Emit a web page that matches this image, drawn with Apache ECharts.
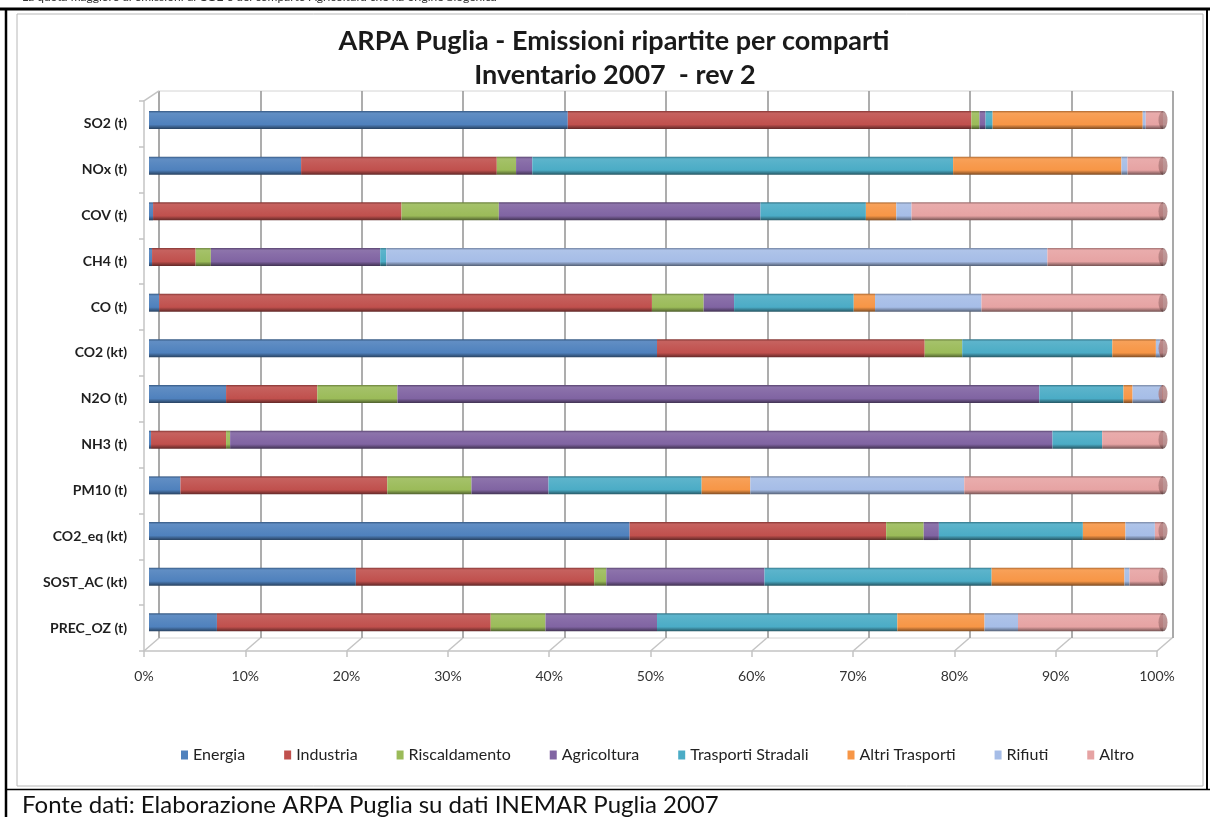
<!DOCTYPE html>
<html>
<head>
<meta charset="utf-8">
<script src="https://cdn.jsdelivr.net/npm/echarts@6/dist/echarts.min.js"></script>
<style>
  html, body { margin: 0; padding: 0; background: #fff; }
  #chart { width: 1210px; height: 817px; }
</style>
</head>
<body>
<div id="chart"></div>
<script>
// categories (top to bottom) and sector shares in %
const categories = ['SO2 (t)', 'NOx (t)', 'COV (t)', 'CH4 (t)', 'CO (t)', 'CO2 (kt)', 'N2O (t)', 'NH3 (t)', 'PM10 (t)', 'CO2_eq (kt)', 'SOST_AC (kt)', 'PREC_OZ (t)'];
const sectors = ['Energia', 'Industria', 'Riscaldamento', 'Agricoltura', 'Trasporti Stradali', 'Altri Trasporti', 'Rifiuti', 'Altro'];

const energia        = [41.3, 15.0,  0.4,  0.3,  1.0, 50.1,  7.6,  0.2,  3.1, 47.4, 20.4,  6.7];
const industria      = [39.8, 19.3, 24.5,  4.3, 48.6, 26.4,  9.0,  7.4, 20.4, 25.3, 23.5, 27.0];
const riscaldamento  = [ 0.8,  1.9,  9.6,  1.5,  5.1,  3.7,  7.9,  0.4,  8.3,  3.7,  1.2,  5.4];
const agricoltura    = [ 0.6,  1.6, 25.8, 16.7,  3.0,  0.0, 63.3, 81.1,  7.6,  1.5, 15.6, 11.0];
const trasporti      = [ 0.7, 41.5, 10.4,  0.6, 11.8, 14.8,  8.3,  4.9, 15.1, 14.2, 22.4, 23.7];
const altriTrasporti = [14.8, 16.6,  3.0,  0.0,  2.1,  4.3,  0.9,  0.0,  4.8,  4.2, 13.1,  8.6];
const rifiuti        = [ 0.3,  0.6,  1.5, 65.2, 10.5,  0.4,  2.9,  0.0, 21.1,  2.9,  0.5,  3.3];
const altro          = [ 1.7,  3.5, 24.8, 11.4, 17.9,  0.3,  0.1,  6.0, 19.6,  0.8,  3.3, 14.3];

const xTicks = [0, 10, 20, 30, 40, 50, 60, 70, 80, 90, 100];

const seriesValues = [energia, industria, riscaldamento, agricoltura, trasporti, altriTrasporti, rifiuti, altro];
const colors = ['#4F81BD', '#C0504D', '#9BBB59', '#8064A2', '#4BACC6', '#F79646', '#A6BDE7', '#E6A3A3'];

function shade(hex, k) {
  const n = parseInt(hex.slice(1), 16);
  const f = c => Math.round(k >= 0 ? c + (255 - c) * k : c * (1 + k));
  return 'rgb(' + f(n >> 16) + ',' + f((n >> 8) & 255) + ',' + f(n & 255) + ')';
}
// fake cylinder look
function cylinder(hex) {
  return new echarts.graphic.LinearGradient(0, 0, 0, 1, [
    { offset: 0, color: shade(hex, -0.3) },
    { offset: 0.12, color: shade(hex, 0.1) },
    { offset: 0.35, color: shade(hex, 0.06) },
    { offset: 0.75, color: hex },
    { offset: 1, color: shade(hex, -0.5) }
  ]);
}

const font = 'Lato, "Open Sans", sans-serif';
const chart = echarts.init(document.getElementById('chart'));

const barSeries = sectors.map((name, i) => ({
  name: name,
  type: 'bar',
  stack: 'tot',
  xAxisIndex: 0,
  yAxisIndex: 0,
  barWidth: 18,
  data: seriesValues[i],
  itemStyle: { color: cylinder(colors[i]) },
  emphasis: { disabled: true }
}));

const option = {
  animation: false,
  backgroundColor: '#fff',
  legend: {
    data: sectors.map((s, i) => ({ name: s, itemStyle: { color: colors[i] } })),
    left: 176,
    top: 742,
    icon: 'rect',
    itemWidth: 7,
    itemHeight: 9,
    itemGap: 39,
    textStyle: { fontFamily: font, fontSize: 16, color: '#222' }
  },
  grid: [
    { left: 149, top: 97.2, width: 1014, height: 548 },                     // bars
    { left: 159, top: 91, width: 1014, height: 547, show: true,
      borderColor: '#d4d4d4', borderWidth: 1 },                             // back wall
    { left: 144, top: 100.8, width: 1013, height: 550.2 }                   // front axes
  ],
  xAxis: [
    { gridIndex: 0, type: 'value', min: 0, max: 100, show: false },
    { gridIndex: 1, type: 'value', min: 0, max: 100, interval: 10,
      axisLine: { show: false }, axisTick: { show: false }, axisLabel: { show: false },
      splitLine: { show: true, lineStyle: { color: '#999', width: 1.6 } } },
    { gridIndex: 2, type: 'value', min: 0, max: 100, interval: 10,
      axisLine: { show: true, lineStyle: { color: '#c4c4c4', width: 1.5 } },
      axisTick: { show: true, length: 6, lineStyle: { color: '#c4c4c4', width: 1.5 } },
      axisLabel: { formatter: '{value}%', margin: 18, fontFamily: font, fontSize: 14, color: '#333' },
      splitLine: { show: false } }
  ],
  yAxis: [
    { gridIndex: 0, type: 'category', inverse: true, data: categories, show: false },
    { gridIndex: 1, type: 'value', show: false },
    { gridIndex: 2, type: 'category', inverse: true, data: categories,
      axisLine: { show: true, lineStyle: { color: '#c4c4c4', width: 1.5 } },
      axisTick: { show: true, length: 5, lineStyle: { color: '#c4c4c4', width: 1.5 } },
      axisLabel: { margin: 17, padding: [9, 0, 0, 0], fontFamily: font, fontSize: 14,
        fontWeight: 'bold', color: '#1f1f1f' } }
  ],
  series: barSeries.concat([
    {
      // rounded end caps of the cylinders
      type: 'scatter',
      xAxisIndex: 0,
      yAxisIndex: 0,
      symbol: 'circle',
      symbolSize: [9, 18],
      data: categories.map((c, i) => [100, i]),
      itemStyle: { color: cylinder('#A87373') },
      silent: true,
      z: 3
    },
    {
      // slanted floor ticks joining front axis and back wall
      type: 'custom',
      xAxisIndex: 2,
      yAxisIndex: 2,
      silent: true,
      data: xTicks.map(v => [v, categories.length - 1]),
      renderItem: (params, api) => {
        const p = api.coord([api.value(0), api.value(1)]);
        const h = api.size([0, 1])[1];
        const yb = p[1] + h / 2;
        const st = { stroke: '#c4c4c4', lineWidth: 1.5 };
        const kids = [{ type: 'line', shape: { x1: p[0], y1: yb, x2: p[0] + 15, y2: yb - 13 }, style: st }];
        if (params.dataIndex === 0) {
          const yt = yb - h * categories.length;
          kids.push({ type: 'line', shape: { x1: p[0], y1: yt, x2: p[0] + 15, y2: yt - 10 }, style: st });
        }
        return { type: 'group', children: kids };
      }
    }
  ]),
  graphic: [
    { type: 'text', left: 22, top: -9, style: { text: 'La quota maggiore di emissioni di CO2 è del comparto Agricoltura che ha origine biogenica', font: '12px ' + font, fill: '#333' } },
    { type: 'rect', shape: { x: 17, y: 14, width: 1186, height: 772 }, style: { fill: 'none', stroke: '#b8b8b8', lineWidth: 1 } },
    { type: 'line', shape: { x1: 0, y1: 9, x2: 1210, y2: 9 }, style: { stroke: '#000', lineWidth: 3 } },
    { type: 'line', shape: { x1: 6, y1: 9, x2: 6, y2: 817 }, style: { stroke: '#000', lineWidth: 2.5 } },
    { type: 'line', shape: { x1: 1207, y1: 9, x2: 1207, y2: 790 }, style: { stroke: '#000', lineWidth: 2 } },
    { type: 'line', shape: { x1: 6, y1: 789.5, x2: 1210, y2: 789.5 }, style: { stroke: '#000', lineWidth: 1.5 } },
    // chart title
    { type: 'text', x: 614, y: 41, style: { text: 'ARPA Puglia - Emissioni ripartite per comparti', font: 'bold 27px ' + font, fill: '#1a1a1a', align: 'center', verticalAlign: 'middle' } },
    { type: 'text', x: 615, y: 75, style: { text: 'Inventario 2007  - rev 2', font: 'bold 27px ' + font, fill: '#1a1a1a', align: 'center', verticalAlign: 'middle' } },
    { type: 'text', left: 22, top: 793, style: { text: 'Fonte dati: Elaborazione ARPA Puglia su dati INEMAR Puglia 2007', font: '24px ' + font, fill: '#111' } }
  ]
};

chart.setOption(option);
</script>
</body>
</html>
